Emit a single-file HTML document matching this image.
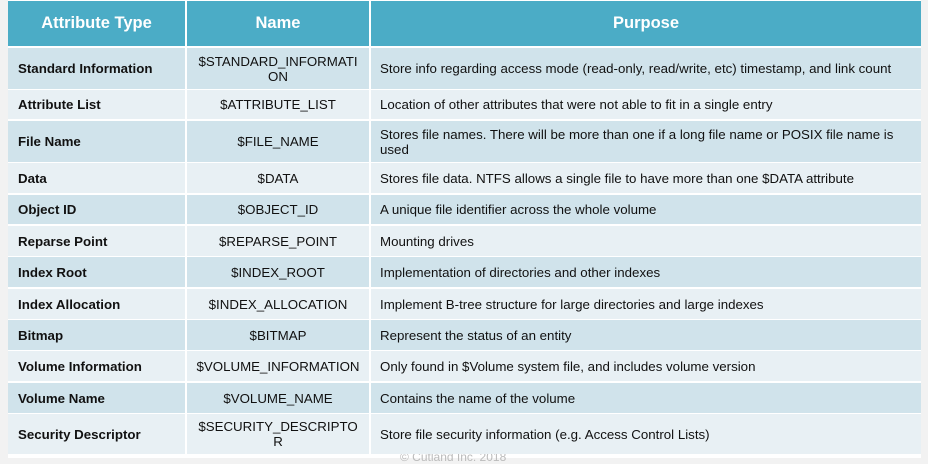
<!DOCTYPE html>
<html><head><meta charset="utf-8"><style>
body{margin:0;width:928px;height:458px;background:#f2f2f2;position:relative;overflow:hidden;font-family:"Liberation Sans",Arial,sans-serif;}
.t{position:absolute;left:8px;top:0;width:913px;height:458px;background:#fff;}
.c{position:absolute;display:flex;align-items:center;font-size:13.3px;color:#111;box-sizing:border-box;line-height:15px;}
.h{background:#4bacc6;color:#fff;font-weight:bold;font-size:16.5px;justify-content:center;}
.a{background:#d0e3eb;}.b{background:#e8f0f4;}
.c1{left:8px;width:177px;padding-left:10px;font-weight:bold;}
.c2{left:187px;width:182px;justify-content:center;text-align:center;}
.c3{left:371px;width:550px;padding-left:9px;}
.wm{position:absolute;left:400px;top:450px;font-size:12px;color:#bbb;}
</style></head><body>
<div class="t"></div>
<div class="wm">© Cutland Inc. 2018</div>
<div class="c h" style="left:8px;width:177px;top:1px;height:45px">Attribute Type</div>
<div class="c h" style="left:187px;width:182px;top:1px;height:45px">Name</div>
<div class="c h" style="left:371px;width:550px;top:1px;height:45px">Purpose</div>

<div class="c a c1" style="top:48px;height:41px">Standard Information</div>
<div class="c a c2" style="top:48px;height:41px">$STANDARD_INFORMATI<br>ON</div>
<div class="c a c3" style="top:48px;height:41px">Store info regarding access mode (read-only, read/write, etc) timestamp, and link count</div>

<div class="c b c1" style="top:90px;height:29px">Attribute List</div>
<div class="c b c2" style="top:90px;height:29px">$ATTRIBUTE_LIST</div>
<div class="c b c3" style="top:90px;height:29px">Location of other attributes that were not able to fit in a single entry</div>

<div class="c a c1" style="top:121px;height:41px">File Name</div>
<div class="c a c2" style="top:121px;height:41px">$FILE_NAME</div>
<div class="c a c3" style="top:121px;height:41px">Stores file names. There will be more than one if a long file name or POSIX file name is<br>used</div>

<div class="c b c1" style="top:163px;height:30px">Data</div>
<div class="c b c2" style="top:163px;height:30px">$DATA</div>
<div class="c b c3" style="top:163px;height:30px">Stores file data. NTFS allows a single file to have more than one $DATA attribute</div>

<div class="c a c1" style="top:195px;height:29px">Object ID</div>
<div class="c a c2" style="top:195px;height:29px">$OBJECT_ID</div>
<div class="c a c3" style="top:195px;height:29px">A unique file identifier across the whole volume</div>

<div class="c b c1" style="top:226px;height:30px">Reparse Point</div>
<div class="c b c2" style="top:226px;height:30px">$REPARSE_POINT</div>
<div class="c b c3" style="top:226px;height:30px">Mounting drives</div>

<div class="c a c1" style="top:257px;height:30px">Index Root</div>
<div class="c a c2" style="top:257px;height:30px">$INDEX_ROOT</div>
<div class="c a c3" style="top:257px;height:30px">Implementation of directories and other indexes</div>

<div class="c b c1" style="top:289px;height:30px">Index Allocation</div>
<div class="c b c2" style="top:289px;height:30px">$INDEX_ALLOCATION</div>
<div class="c b c3" style="top:289px;height:30px">Implement B-tree structure for large directories and large indexes</div>

<div class="c a c1" style="top:320px;height:30px">Bitmap</div>
<div class="c a c2" style="top:320px;height:30px">$BITMAP</div>
<div class="c a c3" style="top:320px;height:30px">Represent the status of an entity</div>

<div class="c b c1" style="top:351px;height:30px">Volume Information</div>
<div class="c b c2" style="top:351px;height:30px">$VOLUME_INFORMATION</div>
<div class="c b c3" style="top:351px;height:30px">Only found in $Volume system file, and includes volume version</div>

<div class="c a c1" style="top:383px;height:30px">Volume Name</div>
<div class="c a c2" style="top:383px;height:30px">$VOLUME_NAME</div>
<div class="c a c3" style="top:383px;height:30px">Contains the name of the volume</div>

<div class="c b c1" style="top:414px;height:40px">Security Descriptor</div>
<div class="c b c2" style="top:414px;height:40px">$SECURITY_DESCRIPTO<br>R</div>
<div class="c b c3" style="top:414px;height:40px">Store file security information (e.g. Access Control Lists)</div>
</body></html>
